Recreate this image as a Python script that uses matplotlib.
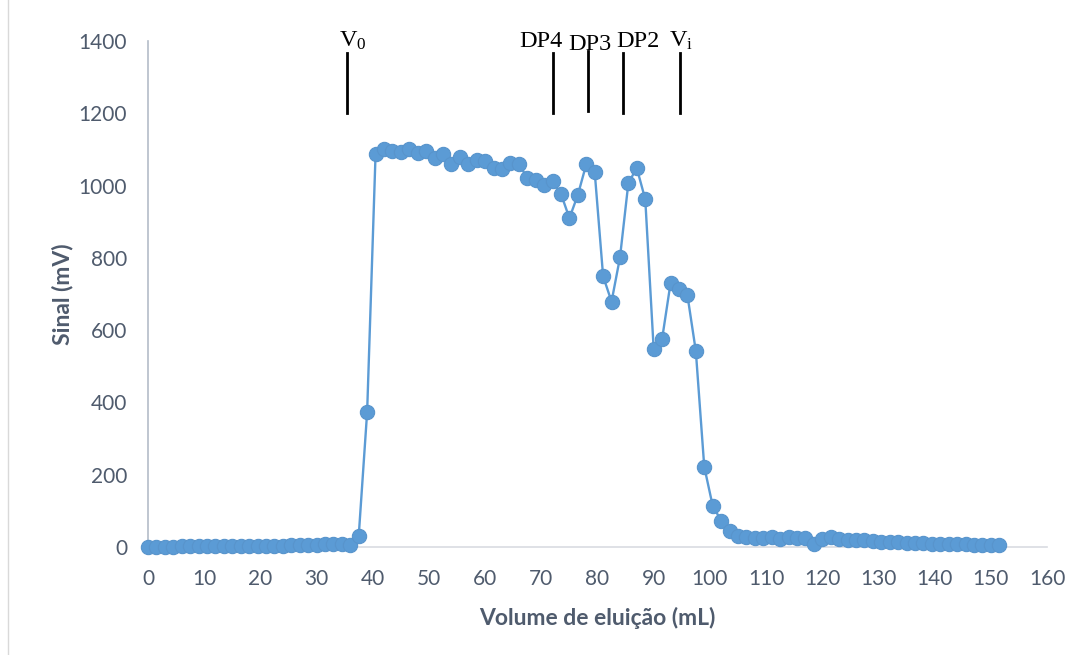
import numpy as np
import matplotlib
matplotlib.use("Agg")
import matplotlib.pyplot as plt
from matplotlib.lines import Line2D

# ---- data ----
step = 1.5
signal = [0, 1, 0, 1, 2, 2, 2, 2, 2, 2, 2, 2, 3, 3, 3, 4, 4, 5, 5, 6,
          6, 7, 8, 8, 6, 30, 373, 1087, 1100, 1097, 1092, 1100, 1090, 1095,
          1075, 1087, 1060, 1080, 1059, 1071, 1068, 1050, 1045, 1063, 1059,
          1022, 1016, 1002, 1013, 977, 910, 974, 1059, 1038, 749, 679, 801,
          1008, 1048, 962, 547, 576, 730, 713, 697, 542, 222, 114, 73, 45,
          30, 27, 26, 26, 27, 21, 28, 24, 24, 7, 21, 27, 21, 19, 19, 18, 17,
          15, 14, 13, 12, 10, 10, 9, 8, 8, 7, 7, 6, 6, 6, 5]
volume = [i * step for i in range(len(signal))]

marker_labels = [r"$\mathrm{V_0}$", "DP4", "DP3", "DP2", r"$\mathrm{V_i}$"]
marker_x = [35.5, 72.0, 78.3, 84.5, 94.7]
label_x = [36.4, 69.9, 78.6, 87.2, 94.9]

x_ticks = list(range(0, 161, 10))
y_ticks = list(range(0, 1401, 200))

# ---- style ----
plt.rcParams['font.family'] = ['Lato', 'DejaVu Sans']
plt.rcParams['mathtext.fontset'] = 'custom'
plt.rcParams['mathtext.rm'] = 'Liberation Serif'
plt.rcParams['mathtext.it'] = 'Liberation Serif:italic'

text_col = '#4F5B6D'
blue = '#5B9BD5'

fig = plt.figure(figsize=(10.83, 6.55), dpi=100)
ax = fig.add_axes([148 / 1083, 108 / 655, (1047 - 148) / 1083, (547 - 41) / 655])

ax.plot(volume, signal, color=blue, lw=1.7, marker='o', markersize=10.3,
        markerfacecolor=blue, markeredgecolor='#5894CC', markeredgewidth=0.8,
        zorder=3, clip_on=False)

ax.set_xlim(0, 160)
ax.set_ylim(0, 1400)
ax.set_xticks(x_ticks)
ax.set_yticks(y_ticks)
ax.tick_params(axis='both', length=0, labelsize=15, labelcolor=text_col)
ax.tick_params(axis='x', pad=16)
ax.tick_params(axis='y', pad=15)

for s in ['top', 'right']:
    ax.spines[s].set_visible(False)
ax.spines['left'].set_color('#B4BCC8')
ax.spines['left'].set_linewidth(1.2)
ax.spines['bottom'].set_color('#D9DCE2')
ax.spines['bottom'].set_linewidth(1.2)

ax.set_xlabel("Volume de eluição (mL)", fontsize=16.5, fontweight='bold',
              color=text_col, labelpad=13)
ax.set_ylabel("Sinal (mV)", fontsize=16.5, fontweight='bold',
              color=text_col, labelpad=4)

# vertical markers with labels
for lab, mx, lx in zip(marker_labels, marker_x, label_x):
    top = 1368 if lab != 'DP3' else 1372
    bot = 1200 if lab != 'DP3' else 1206
    ax.add_line(Line2D([mx, mx], [bot, top], color='black', lw=2.0,
                       clip_on=False, zorder=4))
    ly = 1376 if lab == 'DP3' else 1384
    ax.text(lx, ly, lab, fontsize=17.5, family='Liberation Serif',
            ha='center', va='baseline', color='black', clip_on=False)

# faint chart-area border on the left
fig.add_artist(Line2D([8 / 1083, 8 / 1083], [0.0, 1.0], transform=fig.transFigure,
                      color='#D9D9D9', lw=1))

fig.savefig("out.png", dpi=100)
